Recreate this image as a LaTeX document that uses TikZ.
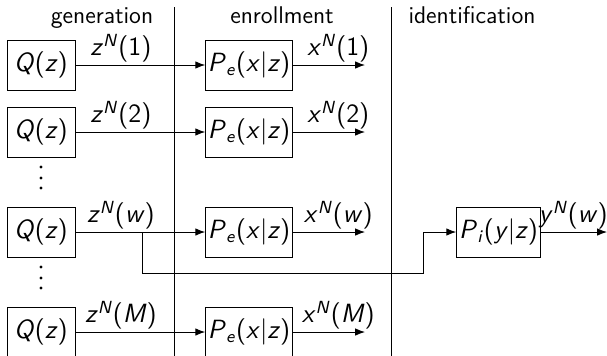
\documentclass[tikz,border=0pt]{standalone}
\usepackage{amsmath,amssymb}
\usepackage{tikz}
\usetikzlibrary{arrows.meta, positioning, calc}

% sans slanted variables
\newcommand{\sv}[1]{\textsl{#1}}
\newcommand{\sq}[2]{\sv{#1}\textsuperscript{\sv{N}}(#2)}

\tikzset{
  lbl/.style={font=\sffamily\fontsize{12}{14}\selectfont},
  src/.style={lbl, draw, minimum width=1.09cm, minimum height=0.8cm, inner sep=1pt},
  chan/.style={lbl, draw, minimum width=1.34cm, minimum height=0.8cm, inner sep=1pt},
  sig/.style={-{Latex[length=4.5pt,width=3.4pt]}},
  tag/.style={lbl, above, inner sep=1pt},
  vdots/.style={fill, circle, inner sep=0pt, minimum size=1.4pt}
}

\begin{document}
\begin{tikzpicture}[x=0.016cm, y=-0.016cm, font=\sffamily\fontsize{11}{13}\selectfont]
  \useasboundingbox (0,0) rectangle (607,355);
  \begin{scope}
    \node[anchor=base] (hgen) at (102,23) {generation};
    \node[anchor=base] (henr) at (282,23) {enrollment};
    \node[anchor=base] (hid) at (472,23) {identification};
    \coordinate (sepAtop) at (174,7);
    \coordinate (sepAbot) at (174,360);
    \coordinate (sepBtop) at (391,7);
    \coordinate (sepBbot) at (391,360);
    \draw (sepAtop) -- (sepAbot);
    \draw (sepBtop) -- (sepBbot);
  \end{scope}
  % one row per message index
  \foreach \idx/\lab/\yy in {1/1/65, 2/2/132, w/\sv{w}/232, M/\sv{M}/332} {
    \node[src] (Q\idx) at (41,\yy) {\sv{Q}(\sv{z})};
    \node[chan] (Pe\idx) at (249,\yy) {\sv{P}\textsubscript{\sv{e}}(\sv{x}|\sv{z})};
    \coordinate (out\idx) at (365,\yy);
    \draw[sig] (Q\idx) -- node[tag, pos=0.35] {\sq{z}{\lab}} (Pe\idx);
    \draw[sig] (Pe\idx) -- node[tag, pos=0.63] {\sq{x}{\lab}} (out\idx);
  }
  \foreach \yy in {167,178,188,267,278,288}
    \node[vdots] at (41,\yy) {};
  \begin{scope}
    \node[chan] (Pi) at (498.5,232) {\sv{P}\textsubscript{\sv{i}}(\sv{y}|\sv{z})};
    \coordinate (tap) at (142,232);
    \coordinate (tapdown) at (142,273);
    \coordinate (rise) at (423,273);
    \coordinate (outy) at (607,232);
    \draw[sig] (tap) -- (tapdown) -- (rise) |- (Pi);
    \draw[sig] (Pi) -- node[tag, pos=0.49] {\sq{y}{\sv{w}}} (outy);
  \end{scope}
\end{tikzpicture}
\end{document}
